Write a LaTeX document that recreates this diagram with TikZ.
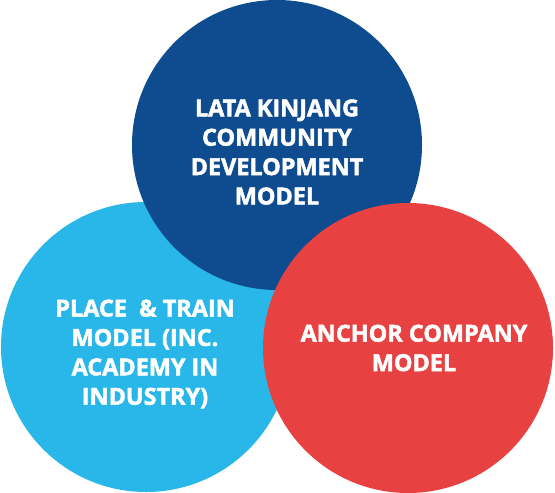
\documentclass[tikz,border=0pt]{standalone}
\usepackage{fontspec}
\setmainfont{Open Sans}[UprightFont=* Bold, UprightFeatures={FakeBold=2}]
\definecolor{topblue}{HTML}{0F4C8F}
\definecolor{skyblue}{HTML}{29B7E9}
\definecolor{anchorred}{HTML}{E84142}
\tikzset{
  model/.style={circle, minimum size=290bp, inner sep=0pt},
  modeltext/.style={text=white, align=center, font=\fontsize{23.5}{29.5}\selectfont}
}
\begin{document}
\begin{tikzpicture}[x=1bp,y=-1bp]
			\useasboundingbox (0,0) rectangle (555,493);
			% circles, back to front
			\node[model, fill=skyblue] (place) at (146,347) {};
			\node[model, fill=topblue] (lata) at (277,145) {};
			\node[model, fill=anchorred] (anchor) at (408,348) {};
			% labels
			\node[modeltext] (latatext) at (277,152) {LATA KINJANG\\COMMUNITY\\DEVELOPMENT\\MODEL};
			\node[modeltext] (placetext) at (145,354) {PLACE \ \& TRAIN\\MODEL (INC.\\ACADEMY IN\\INDUSTRY)};
			\node[modeltext] (anchortext) at (414,348) {ANCHOR COMPANY\\MODEL};
		\end{tikzpicture}
\end{document}
